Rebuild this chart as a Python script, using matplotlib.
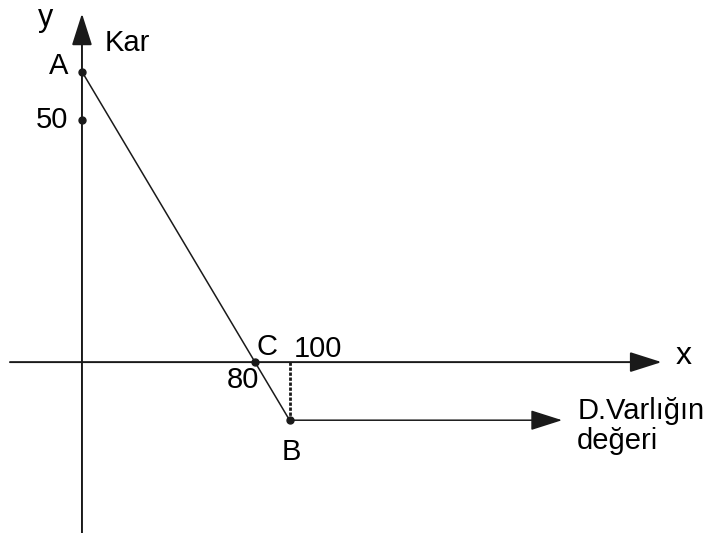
import matplotlib
matplotlib.use('Agg')
import matplotlib.pyplot as plt

# noktalar
point_names = ['A', 'C', 'B']
point_x = [0, 80, 96]
point_y = [60, 0, -12]
tick50_y = 50
x_labels = ['80', '100']
y_labels = ['50']
x_axis_end = 268
y_axis_top = 72
arrow_end_x = 222

plt.rcParams['font.family'] = ['Liberation Sans', 'DejaVu Sans']

fig = plt.figure(figsize=(7.23, 5.33), dpi=100)
ax = fig.add_axes([0, 0, 1, 1])
ax.set_xlim(-37.9, 296.4)
ax.set_ylim(-35.3, 74.8)
ax.axis('off')

arr = dict(arrowstyle='-|>,head_length=1.1,head_width=0.35', color='#1a1a1a',
           lw=1.4, shrinkA=0, shrinkB=0, mutation_scale=18)
# eksenler
ax.annotate('', xy=(x_axis_end, 0), xytext=(-33.3, 0), arrowprops=arr)
ax.annotate('', xy=(0, y_axis_top), xytext=(0, -35.3), arrowprops=arr)

# A-C-B dogrusu
ax.plot(point_x, point_y, color='#1a1a1a', lw=1.1)
# B'den yatay ok
ax.annotate('', xy=(arrow_end_x, point_y[2]), xytext=(point_x[2], point_y[2]),
            arrowprops=dict(arr, lw=1.1))
# kesikli dikey
ax.plot([point_x[2], point_x[2]], [0, point_y[2]], color='#1a1a1a', lw=2,
        linestyle=(0, (1.2, 0.6)))

ax.plot(point_x + [0], point_y + [tick50_y], 'o', color='#1a1a1a', ms=5)

fs = 21
ax.text(-17, 71, 'y', fontsize=fs + 1, ha='center', va='center')
ax.text(10.5, 66, 'Kar', fontsize=fs, ha='left', va='center')
ax.text(-11, 61.2, point_names[0], fontsize=fs, ha='center', va='center')
ax.text(-6.5, tick50_y, y_labels[0], fontsize=fs, ha='right', va='center')
ax.text(85.5, 3.1, point_names[1], fontsize=fs, ha='center', va='center')
ax.text(109, 2.7, x_labels[1], fontsize=fs, ha='center', va='center')
ax.text(74.5, -3.7, x_labels[0], fontsize=fs, ha='center', va='center')
ax.text(97, -18.6, point_names[2], fontsize=fs, ha='center', va='center')
ax.text(278.4, 1.2, 'x', fontsize=fs + 2, ha='center', va='center')
ax.text(229, -10.1, 'D.Varlığın', fontsize=fs, ha='left', va='center')
ax.text(229, -16.3, 'değeri', fontsize=fs, ha='left', va='center')

fig.savefig('out.png', dpi=100)
